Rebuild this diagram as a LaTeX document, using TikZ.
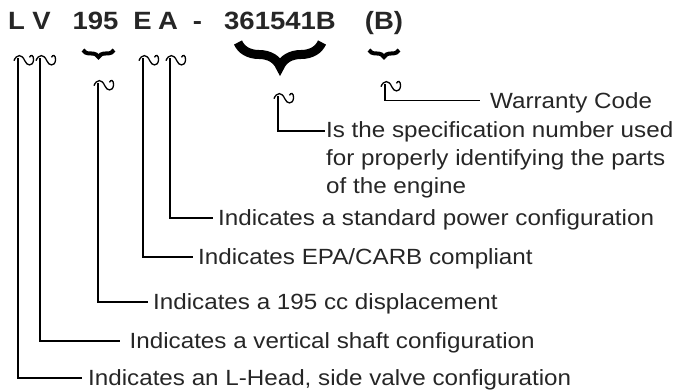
\documentclass[tikz,border=0pt]{standalone}
\usepackage{fontspec}
\newfontfamily\codefont{Liberation Sans}[FakeStretch=1.1]
\newfontfamily\notefont{Liberation Sans}[FakeStretch=1.1]
\usetikzlibrary{decorations.pathreplacing}
\definecolor{inkgray}{HTML}{262626}

\tikzset{
  code/.style={font={\codefont\bfseries\fontsize{25}{30}\selectfont}, inner sep=0pt, anchor=base, text=inkgray},
  note/.style={font={\notefont\fontsize{22}{28}\selectfont}, inner sep=0pt, anchor=west, text=inkgray, text height=15.8pt, text depth=0pt},
  lead/.style={line width=1.5pt},
  brc/.style={decorate, decoration={brace, mirror, amplitude=#1}},
  squig/.pic={\draw[line width=1.3pt] (-3,2) .. controls (-1,-3) and (3,-3) .. (5,2) .. controls (6.5,6) and (11,6.5) .. (11.5,1.5) .. controls (11.8,-2) and (9.5,-3) .. (8.5,-0.5);}
}

\begin{document}
\begin{tikzpicture}[x=1pt, y=-1pt]
			\useasboundingbox (0,0) rectangle (673,390);
			
			% Model code
			\node[code] (cL) at (16.5,30) {L};
			\node[code] (cV) at (41.5,30) {V};
			\node[code] (c195) at (95.5,30) {195};
			\node[code] (cE) at (142.5,30) {E};
			\node[code] (cA) at (168,30) {A};
			\node[code] (cdash) at (197.5,30) {-};
			\node[code] (cspec) at (280,30) {361541B};
			\node[code] (cwc) at (384,30) {(B)};
			
			% Braces under the grouped parts
			\draw[brc=7pt, line width=4pt] (83,50) -- (114,50);
			\draw[brc=24pt, line width=9pt] (238,42.5) -- (322,42.5);
			\draw[brc=7pt, line width=4pt] (369,50) -- (399,50);
			
			% Start points of the leaders
			\coordinate (qL) at (18,58);
			\coordinate (qV) at (40,58);
			\coordinate (q195) at (98,83);
			\coordinate (qE) at (143,58);
			\coordinate (qA) at (170,58);
			\coordinate (qS) at (278,96);
			\coordinate (qWC) at (385,84);
			\foreach \q in {qL,qV,q195,qE,qA,qS,qWC}
				\pic[scale=1.35] at (\q) {squig};
			
			% Explanations
			\node[note] (nWC) at (490,100.5) {Warranty Code};
			\node[note] (nS1) at (326,129.5) {Is the specification number used};
			\node[note] (nS2) at (326,157.5) {for properly identifying the parts};
			\node[note] (nS3) at (326,185.5) {of the engine};
			\node[note] (nA) at (218,218) {Indicates a standard power configuration};
			\node[note] (nE) at (198,257) {Indicates EPA/CARB compliant};
			\node[note] (n195) at (153,302) {Indicates a 195 cc displacement};
			\node[note] (nV) at (129.5,341) {Indicates a vertical shaft configuration};
			\node[note] (nL) at (88,378) {Indicates an L-Head, side valve configuration};
			
			% Leaders
			\draw[lead] (qWC) |- ([xshift=-10pt]nWC.west);
			\draw[lead] (qS) |- ([xshift=-1pt,yshift=-1.5pt]nS1.west);
			\draw[lead] (qA) |- ([xshift=-5pt]nA.west);
			\draw[lead] (qE) |- ([xshift=-5pt]nE.west);
			\draw[lead] (q195) |- ([xshift=-5pt]n195.west);
			\draw[lead] (qV) |- ([xshift=-9.5pt]nV.west);
			\draw[lead] (qL) |- ([xshift=-6pt]nL.west);
		\end{tikzpicture}
\end{document}
